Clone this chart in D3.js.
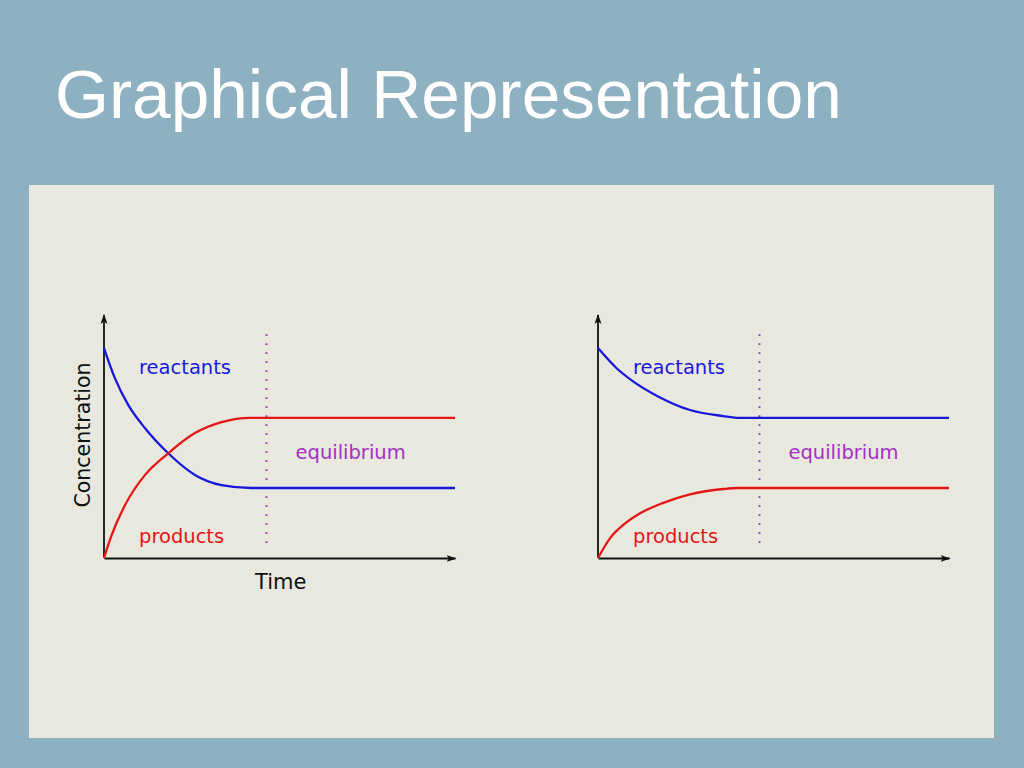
<!DOCTYPE html>
<html><head><meta charset="utf-8">
<script src="https://cdn.jsdelivr.net/npm/d3@7"></script>
<style>html,body{margin:0;padding:0;background:#8db1c0;}svg{display:block;}</style>
</head><body>
<svg id="c" width="1024" height="768"></svg>
<script>
// ---- data (time 0..10, concentration 0..1) ----
const title = "Graphical Representation";
const labels = {reactants:"reactants", products:"products", equilibrium:"equilibrium", xTitle:"Time", yTitle:"Concentration"};

// chart 1
const c1TimeR     = [0, 0.31, 0.69, 1.17, 1.83, 2.59, 3.35, 4.2, 10];
const c1Reactants = [0.864, 0.740, 0.630, 0.534, 0.431, 0.342, 0.300, 0.288, 0.288];
const c1TimeP     = [0, 0.22, 0.60, 1.17, 1.83, 2.59, 3.35, 4.15, 10];
const c1Products  = [0, 0.095, 0.218, 0.342, 0.431, 0.514, 0.559, 0.577, 0.577];
const c1Equil = 4.63;

// chart 2
const c2TimeR     = [0, 0.53, 1.01, 1.67, 2.62, 3.57, 3.95, 10];
const c2Reactants = [0.864, 0.781, 0.726, 0.668, 0.609, 0.584, 0.577, 0.577];
const c2TimeP     = [0, 0.34, 0.72, 1.20, 1.86, 2.62, 3.57, 3.95, 10];
const c2Products  = [0, 0.081, 0.136, 0.184, 0.227, 0.262, 0.284, 0.288, 0.288];
const c2Equil = 4.6;

const svg = d3.select("#c");
const W = 1024, H = 768;

// background + panel
svg.append("rect").attr("width", W).attr("height", H).attr("fill", "#8db1c0");
svg.append("rect").attr("x", 29).attr("y", 185).attr("width", 965).attr("height", 553).attr("fill", "#e8e8de");

svg.append("text").attr("x", 55).attr("y", 118)
  .attr("font-family", "'Liberation Sans', Arial, sans-serif").attr("font-size", 69.4)
  .attr("fill", "#ffffff").text(title);

const defs = svg.append("defs");
defs.append("marker").attr("id", "arr").attr("viewBox", "0 0 10 10").attr("refX", 9).attr("refY", 5)
  .attr("markerWidth", 10).attr("markerHeight", 10).attr("markerUnits", "userSpaceOnUse")
  .attr("orient", "auto")
  .append("path").attr("d", "M0,1.5 L10,5 L0,8.5 L2.5,5 Z").attr("fill", "#111");

const blue = "#1818dc", red = "#e41616", purple = "#a62ec8";
const lblFont = "'DejaVu Sans', sans-serif";

function chart(x0, tR, reac, tP, prod, eq, showTitles) {
  const x = d3.scaleLinear().domain([0, 10]).range([x0, x0 + 351]);
  const y = d3.scaleLinear().domain([0, 1]).range([558, 315]);
  const g = svg.append("g");

  const xa = g.append("g").attr("transform", `translate(0,${y(0)})`)
    .call(d3.axisBottom(x).tickValues([]).tickSizeOuter(0));
  xa.select(".domain").attr("stroke", "#111").attr("stroke-width", 1.8).attr("marker-end", "url(#arr)");
  const ya = g.append("g").attr("transform", `translate(${x(0)},0)`)
    .call(d3.axisLeft(y).tickValues([]).tickSizeOuter(0));
  ya.select(".domain").attr("stroke", "#111").attr("stroke-width", 1.8)
    .attr("d", `M0,${y(0)}V${y(1)}`).attr("marker-end", "url(#arr)");

  // equilibrium dotted line
  g.append("line").attr("x1", x(eq)).attr("x2", x(eq)).attr("y1", y(0.062)).attr("y2", y(0.926))
    .attr("stroke", purple).attr("stroke-width", 2).attr("stroke-dasharray", "1.6,7.4");

  const mk = (ts) => d3.line().x((d, i) => x(ts[i])).y(d => y(d)).curve(d3.curveMonotoneX);
  g.append("path").attr("d", mk(tR)(reac)).attr("fill", "none").attr("stroke", blue).attr("stroke-width", 2.3);
  g.append("path").attr("d", mk(tP)(prod)).attr("fill", "none").attr("stroke", red).attr("stroke-width", 2.3);

  g.append("text").attr("x", x(0) + 35).attr("y", 374).attr("font-family", lblFont).attr("font-size", 19.5)
    .attr("fill", blue).text(labels.reactants);
  g.append("text").attr("x", x(0) + 35).attr("y", 543).attr("font-family", lblFont).attr("font-size", 19.5)
    .attr("fill", red).text(labels.products);
  g.append("text").attr("x", x(eq) + 29).attr("y", 459).attr("font-family", lblFont).attr("font-size", 19.5)
    .attr("fill", purple).text(labels.equilibrium);

  if (showTitles) {
    g.append("text").attr("x", 255).attr("y", 589).attr("font-family", lblFont).attr("font-size", 21)
      .attr("fill", "#111").text(labels.xTitle);
    g.append("text").attr("transform", "translate(90,435) rotate(-90)").attr("text-anchor", "middle")
      .attr("font-family", lblFont).attr("font-size", 20.5).attr("fill", "#111").text(labels.yTitle);
  }
}

chart(104, c1TimeR, c1Reactants, c1TimeP, c1Products, c1Equil, true);
chart(598, c2TimeR, c2Reactants, c2TimeP, c2Products, c2Equil, false);
</script>
</body></html>
